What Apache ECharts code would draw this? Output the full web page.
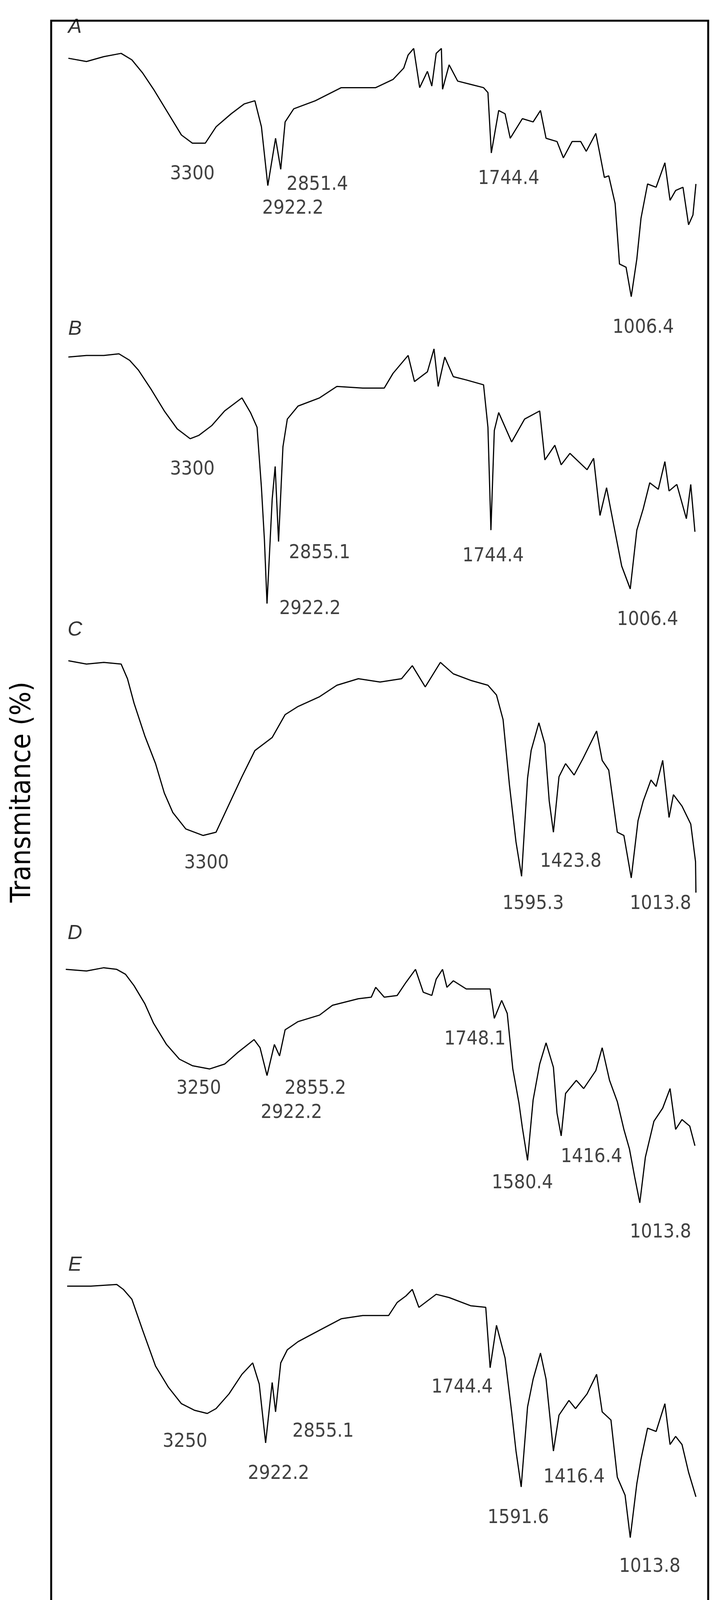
<!DOCTYPE html>
<html>
<head>
<meta charset="utf-8">
<script src="https://cdn.jsdelivr.net/npm/echarts@6/dist/echarts.min.js"></script>
<style>
html, body { margin: 0; padding: 0; background: #fff; }
#chart { width: 1833px; height: 4534px; }
</style>
</head>
<body>
<div id="chart"></div>
<script>
// FTIR spectra, [wavenumber, transmittance (stacked, arbitrary units)]
var spectrumA = [[3943,97.7],[3852,97.5],[3765,97.8],[3678,98.0],[3624,97.6],[3570,96.8],[3515,95.8],[3440,94.3],[3375,93.0],[3320,92.5],[3255,92.5],[3201,93.5],[3125,94.3],[3060,94.9],[3006,95.1],[2973,93.5],[2941,89.9],[2902,92.8],[2876,90.9],[2854,93.8],[2811,94.6],[2702,95.1],[2572,95.9],[2399,95.9],[2312,96.4],[2258,97.1],[2236,97.9],[2208,98.3],[2178,95.9],[2139,96.9],[2117,96.0],[2095,98.0],[2069,98.3],[2063,95.8],[2030,97.3],[1987,96.3],[1922,96.1],[1857,95.9],[1835,95.6],[1818,91.9],[1781,94.5],[1749,94.3],[1723,92.8],[1662,94.0],[1608,93.8],[1571,94.5],[1543,92.8],[1488,92.6],[1456,91.6],[1412,92.6],[1369,92.6],[1341,92.0],[1293,93.1],[1272,91.8],[1250,90.4],[1228,90.5],[1196,88.8],[1174,85.1],[1141,84.9],[1115,83.1],[1087,85.4],[1066,87.9],[1033,90.0],[990,89.8],[946,91.3],[920,89.0],[892,89.6],[855,89.8],[827,87.5],[805,88.1],[790,90.0]];
var spectrumB = [[3943,79.4],[3852,79.5],[3765,79.5],[3689,79.6],[3635,79.2],[3591,78.6],[3526,77.4],[3461,76.1],[3396,75.0],[3331,74.4],[3288,74.6],[3223,75.2],[3158,76.1],[3071,76.9],[3028,76.0],[2995,75.1],[2973,71.4],[2958,68.2],[2945,64.3],[2919,70.7],[2904,72.7],[2887,68.1],[2865,73.9],[2843,75.6],[2789,76.4],[2681,76.9],[2594,77.6],[2464,77.5],[2356,77.5],[2312,78.4],[2236,79.5],[2204,77.9],[2139,78.5],[2106,79.9],[2085,77.6],[2052,79.4],[2009,78.2],[1944,78.0],[1857,77.7],[1835,75.1],[1820,68.8],[1803,74.9],[1781,76.0],[1716,74.2],[1651,75.6],[1575,76.1],[1549,73.1],[1499,74.0],[1467,72.8],[1423,73.5],[1337,72.5],[1304,73.2],[1272,69.7],[1239,71.4],[1206,69.3],[1163,66.6],[1120,65.2],[1087,68.8],[1055,70.1],[1022,71.7],[979,71.3],[946,73.0],[925,71.2],[886,71.6],[838,69.5],[816,71.6],[795,68.7]];
var spectrumC = [[3943,60.8],[3852,60.6],[3765,60.7],[3678,60.6],[3646,59.7],[3613,58.2],[3559,56.2],[3505,54.5],[3461,52.7],[3418,51.5],[3353,50.5],[3266,50.1],[3201,50.3],[3136,52.0],[3071,53.7],[3006,55.3],[2919,56.1],[2854,57.5],[2789,58.0],[2681,58.6],[2594,59.3],[2486,59.7],[2377,59.5],[2269,59.7],[2215,60.5],[2150,59.2],[2074,60.7],[2009,60.0],[1922,59.6],[1835,59.3],[1792,58.7],[1759,57.2],[1727,53.2],[1694,49.7],[1666,47.6],[1636,53.6],[1618,55.3],[1579,57.0],[1549,55.7],[1527,52.2],[1506,50.3],[1478,53.7],[1445,54.5],[1402,53.8],[1358,54.8],[1289,56.5],[1261,54.7],[1228,54.1],[1185,50.3],[1152,50.1],[1115,47.5],[1081,51.0],[1055,52.2],[1016,53.5],[990,53.1],[957,54.7],[925,51.2],[903,52.6],[860,51.9],[816,50.8],[792,48.5],[790,46.6]];
var spectrumD = [[3956,41.9],[3852,41.8],[3765,42.0],[3700,41.9],[3656,41.6],[3613,40.9],[3559,39.8],[3515,38.6],[3450,37.3],[3385,36.4],[3320,36.0],[3234,35.8],[3158,36.1],[3093,36.8],[3010,37.6],[2980,37.1],[2945,35.4],[2908,37.3],[2882,36.6],[2854,38.2],[2789,38.7],[2681,39.1],[2616,39.7],[2486,40.1],[2421,40.2],[2399,40.8],[2356,40.2],[2291,40.3],[2247,41.1],[2199,41.9],[2160,40.5],[2117,40.3],[2095,41.3],[2063,41.9],[2041,40.8],[2009,41.2],[1944,40.7],[1824,40.7],[1803,38.9],[1766,40.0],[1738,39.2],[1710,35.8],[1679,33.7],[1662,32.2],[1636,30.2],[1608,33.9],[1575,36.1],[1543,37.4],[1506,35.9],[1488,33.1],[1467,31.7],[1445,34.3],[1391,35.1],[1354,34.6],[1293,35.7],[1261,37.1],[1224,35.1],[1185,33.8],[1152,32.1],[1124,30.9],[1098,29.2],[1072,27.6],[1044,30.4],[1001,32.6],[957,33.4],[920,34.6],[892,32.1],[860,32.7],[821,32.3],[795,31.1]];
var spectrumE = [[3949,22.5],[3830,22.5],[3700,22.6],[3667,22.3],[3624,21.7],[3570,19.8],[3505,17.6],[3440,16.3],[3375,15.3],[3310,14.9],[3245,14.7],[3201,15.0],[3136,15.9],[3071,17.1],[3017,17.8],[2984,16.5],[2952,12.9],[2919,16.6],[2902,14.8],[2876,17.8],[2843,18.6],[2789,19.1],[2681,19.8],[2572,20.5],[2464,20.7],[2334,20.7],[2291,21.5],[2247,21.9],[2215,22.3],[2182,21.2],[2095,22.0],[2030,21.8],[1922,21.3],[1846,21.2],[1824,17.5],[1792,20.1],[1749,18.1],[1716,14.8],[1694,12.4],[1668,10.2],[1636,15.1],[1608,16.8],[1571,18.4],[1543,16.8],[1506,12.4],[1478,14.6],[1428,15.5],[1395,15.0],[1337,15.9],[1289,17.1],[1261,14.8],[1217,14.3],[1185,10.8],[1146,9.7],[1120,7.1],[1087,10.4],[1066,11.9],[1033,13.8],[990,13.6],[946,15.3],[920,12.8],[892,13.3],[860,12.8],[827,11.1],[790,9.6]];

// panel letters: [name, wavenumber, y]
var panelLetters = [['A',3910,99.6],['B',3910,81.1],['C',3910,62.7],['D',3910,44.1],['E',3910,23.8]];

// peak annotations: [text, wavenumber, y]
var peakLabels = [
    ['3300',3320,90.6],['2851.4',2692,89.95],['2922.2',2815,88.5],['1744.4',1731,90.3],['1006.4',1055,81.2],
    ['3300',3320,72.5],['2855.1',2681,67.4],['2922.2',2729,63.97],['1744.4',1809,67.2],['1006.4',1033,63.3],
    ['3300',3249,48.4],['1423.8',1419,48.5],['1595.3',1608,45.9],['1013.8',968,45.9],
    ['3250',3288,34.6],['2855.2',2702,34.6],['2922.2',2822,33.1],['1748.1',1900,37.6],['1416.4',1315,30.4],['1580.4',1662,28.8],['1013.8',968,25.8],
    ['3250',3357,12.97],['2855.1',2663,13.6],['2922.2',2887,11.0],['1744.4',1965,16.3],['1591.6',1683,8.3],['1416.4',1402,10.8],['1013.8',1022,5.3]
];

var xTickStep = 250;
var xLabelStep = 500;

var chart = echarts.init(document.getElementById('chart'));

function lineSerie(data) {
    return {
        type: 'line', xAxisIndex: 1, yAxisIndex: 1, data: data,
        showSymbol: false, symbol: 'none', animation: false,
        lineStyle: {color: '#000', width: 3}
    };
}

var textSerie = {
    type: 'scatter', xAxisIndex: 1, yAxisIndex: 1, symbolSize: 0, animation: false,
    data: peakLabels.map(function (p) { return {name: p[0], value: [p[1], p[2]]}; }),
    label: {show: true, position: 'inside', formatter: '{b}', color: '#111',
        fontSize: 50, fontFamily: 'DejaVu Sans Condensed, Liberation Sans Narrow, sans-serif'}
};

var letterSerie = {
    type: 'scatter', xAxisIndex: 1, yAxisIndex: 1, symbolSize: 0, animation: false,
    data: panelLetters.map(function (p) { return {name: p[0], value: [p[1], p[2]]}; }),
    label: {show: true, position: 'inside', formatter: '{b}', color: '#000',
        fontSize: 52, fontStyle: 'italic', fontFamily: 'Liberation Sans, sans-serif'}
};

var option = {
    backgroundColor: '#fff',
    animation: false,
    grid: [
        {left: 131, right: 20, top: 53, bottom: 301, show: true, borderColor: '#000', borderWidth: 5, backgroundColor: 'transparent'},
        {left: 146, right: 31, top: 53, bottom: 301}
    ],
    xAxis: [
        {gridIndex: 0, type: 'value', show: false, min: 0, max: 1},
        {
            gridIndex: 1, type: 'value', inverse: true, min: 750, max: 4000, interval: xTickStep,
            axisLine: {show: false},
            splitLine: {show: false},
            axisTick: {show: true, inside: false, length: 26, lineStyle: {color: '#000', width: 4}},
            axisLabel: {
                margin: 48, fontSize: 62, color: '#000', fontFamily: 'DejaVu Sans Condensed, sans-serif',
                formatter: function (v) { return v % xLabelStep === 0 ? String(v) : ''; }
            },
            name: 'Wavenumber (cm{sup|-1})',
            nameLocation: 'middle', nameGap: 190,
            nameTextStyle: {fontSize: 62, color: '#000', fontFamily: 'DejaVu Sans Condensed, sans-serif',
                rich: {sup: {fontSize: 36, verticalAlign: 'top', padding: [0, 0, 26, 0], fontFamily: 'DejaVu Sans Condensed, sans-serif'}}}
        }
    ],
    yAxis: [
        {gridIndex: 0, type: 'value', show: false, min: 0, max: 1},
        {gridIndex: 1, type: 'value', show: false, min: 0, max: 100}
    ],
    graphic: [{
        type: 'text', left: 22, top: 1745, rotation: Math.PI / 2,
        style: {text: 'Transmitance (%)', fontSize: 72, fill: '#000', fontFamily: 'DejaVu Sans Condensed, sans-serif'}
    }],
    series: [lineSerie(spectrumA), lineSerie(spectrumB), lineSerie(spectrumC), lineSerie(spectrumD), lineSerie(spectrumE), textSerie, letterSerie]
};

chart.setOption(option);
</script>
</body>
</html>
